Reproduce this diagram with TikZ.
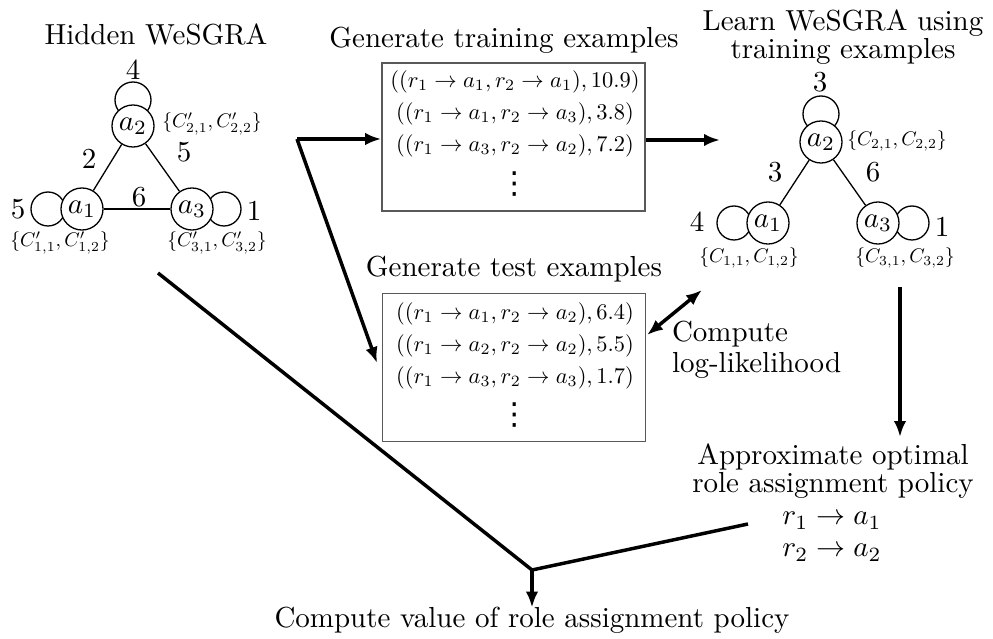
\documentclass[tikz,border=0pt]{standalone}
\usepackage{amsmath}
\usepackage{fontspec}
\newfontfamily\dotsfont{DejaVu Sans}
\usetikzlibrary{arrows.meta,calc,backgrounds}
\begin{document}
\begin{tikzpicture}[x=0.345pt,y=-0.345pt,
  txt/.style={inner sep=0pt,outer sep=0pt,font=\fontsize{10}{12}\selectfont},
  agent/.style={circle,draw,line width=0.45pt,fill=white,minimum size=14.5pt,inner sep=0pt,font=\fontsize{10}{12}\selectfont},
  wt/.style={inner sep=0pt,font=\fontsize{10}{12}\selectfont},
  caps/.style={inner sep=0pt,font=\fontsize{10}{12}\selectfont,scale=0.68},
  exline/.style={inner sep=0pt,font=\fontsize{10}{12}\selectfont,scale=0.775},
  more/.style={inner sep=0pt,font=\dotsfont\fontsize{10.5}{12}\selectfont},
  exbox/.style={draw=black!65,line width=0.6pt,minimum width=90.7pt,minimum height=51.1pt,inner sep=0pt},
  link/.style={line width=0.45pt},
  tip/.tip={Latex[length=5.5pt,width=4.3pt]},
  flow/.style={line width=1.2pt,-tip},
  both/.style={line width=1.2pt,tip-tip},
  bar/.style={line width=1.2pt}
]
\useasboundingbox (0,0) rectangle (993,639);

% ---------- hidden graph ----------
\node[txt,anchor=base] (htitle) at (156,45) {Hidden WeSGRA};
\node[agent] (h2) at (133,126) {$a_2$};
\node[agent] (h1) at (82,209) {$a_1$};
\node[agent] (h3) at (192,209) {$a_3$};
\begin{scope}[on background layer]
  \draw[link] ($(h2.center)+(0,-26)$) circle[radius=18];
  \draw[link] ($(h1.center)+(-34,0)$) circle[radius=17];
  \draw[link] ($(h3.center)+(32,0)$) circle[radius=17];
\end{scope}
\draw[link] (h2) -- (h1);
\draw[link] (h2) -- (h3);
\draw[link] (h1) -- (h3);
\node[wt] (hw22) at (133,70) {4};
\node[wt] (hw12) at (89,159) {2};
\node[wt] (hw23) at (184,152) {5};
\node[wt] (hw11) at (18,209) {5};
\node[wt] (hw33) at (254,211) {1};
\node[wt] (hw13) at (139,197) {6};
\node[caps] (hc2) at (212,124) {$\{C'_{2,1},C'_{2,2}\}$};
\node[caps] (hc1) at (60,243) {$\{C'_{1,1},C'_{1,2}\}$};
\node[caps] (hc3) at (217,243) {$\{C'_{3,1},C'_{3,2}\}$};

% ---------- training examples ----------
\node[txt,anchor=base] (gtrain) at (504,48) {Generate training examples};
\node[exbox] (train) at (513.5,137) {};
\node[exline] (tr1) at (515,82) {$((r_1\rightarrow a_1, r_2\rightarrow a_1), 10.9)$};
\node[exline] (tr2) at (515,114) {$((r_1\rightarrow a_1, r_2\rightarrow a_3), 3.8)$};
\node[exline] (tr3) at (515,146) {$((r_1\rightarrow a_3, r_2\rightarrow a_2), 7.2)$};
\node[more] (trd) at (515,184) {⋮};

% ---------- test examples ----------
\node[txt,anchor=base] (gtest) at (514,277) {Generate test examples};
\node[exbox] (test) at (514,367.5) {};
\node[exline] (te1) at (515,314) {$((r_1\rightarrow a_1, r_2\rightarrow a_2), 6.4)$};
\node[exline] (te2) at (515,346) {$((r_1\rightarrow a_2, r_2\rightarrow a_2), 5.5)$};
\node[exline] (te3) at (515,378) {$((r_1\rightarrow a_3, r_2\rightarrow a_3), 1.7)$};
\node[more] (ted) at (515,415) {⋮};

% ---------- learned graph ----------
\node[txt,anchor=base] (lt1) at (843,31) {Learn WeSGRA using};
\node[txt,anchor=base] (lt2) at (843,59) {training examples};
\node[agent] (l2) at (821,142) {$a_2$};
\node[agent] (l1) at (768,223) {$a_1$};
\node[agent] (l3) at (878,223) {$a_3$};
\begin{scope}[on background layer]
  \draw[link] ($(l2.center)+(0,-28)$) circle[radius=18];
  \draw[link] ($(l1.center)+(-34,0)$) circle[radius=17];
  \draw[link] ($(l3.center)+(34,0)$) circle[radius=17];
\end{scope}
\draw[link] (l2) -- (l1);
\draw[link] (l2) -- (l3);
\node[wt] (lw22) at (820,82) {3};
\node[wt] (lw12) at (775,172) {3};
\node[wt] (lw23) at (873,172) {6};
\node[wt] (lw11) at (697,222) {4};
\node[wt] (lw33) at (942,227) {1};
\node[caps] (lc2) at (897,141) {$\{C_{2,1},C_{2,2}\}$};
\node[caps] (lc1) at (749,258) {$\{C_{1,1},C_{1,2}\}$};
\node[caps] (lc3) at (905,258) {$\{C_{3,1},C_{3,2}\}$};

% ---------- log-likelihood and policy ----------
\node[txt,anchor=base west] (cl1) at (672,342) {Compute};
\node[txt,anchor=base west] (cl2) at (672,373) {log-likelihood};
\node[txt,anchor=base] (ap1) at (833,465) {Approximate optimal};
\node[txt,anchor=base] (ap2) at (833,493) {role assignment policy};
\node[txt,anchor=base] (ap3) at (832,525) {$r_1\rightarrow a_1$};
\node[txt,anchor=base] (ap4) at (832,557) {$r_2\rightarrow a_2$};
\node[txt,anchor=base] (value) at (532,628) {Compute value of role assignment policy};

% ---------- flow arrows ----------
\coordinate (split) at (297,139);
\coordinate (testin) at (377,363);
\coordinate (learnin) at (720,140);
\coordinate (llin) at (702,290);
\coordinate (testll) at (647,335);
\coordinate (learnout) at (900,287);
\coordinate (apin) at (900,437);
\coordinate (hidout) at (158,273);
\coordinate (join) at (532,570);
\coordinate (polout) at (748,524);

\draw[flow] (split) -- (split -| train.west);
\draw[flow] (split) -- (testin);
\draw[flow] (learnin -| train.east) -- (learnin);
\draw[both] (testll) -- (llin);
\draw[flow] (learnout) -- (apin);
\draw[bar] (hidout) -- (join) -- (polout);
\draw[flow] (join) -- (value.north);
\end{tikzpicture}
\end{document}
